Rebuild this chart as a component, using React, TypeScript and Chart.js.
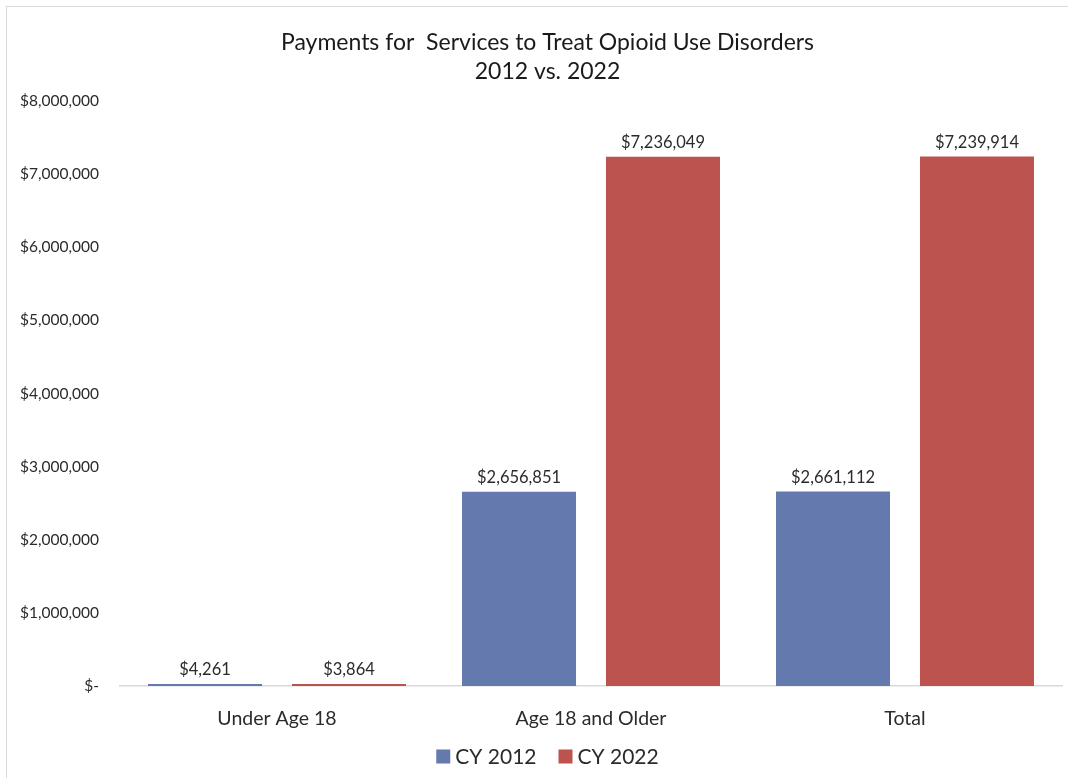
import React, { useEffect, useRef } from "react";
import { Chart, registerables } from "chart.js";

Chart.register(...registerables);

const categories = ["Under Age 18", "Age 18 and Older", "Total"];
const seriesLabels = ["CY 2012", "CY 2022"];
const cy2012 = [4261, 2656851, 2661112];
const cy2022 = [3864, 7236049, 7239914];
const titleLines = ["Payments for  Services to Treat Opioid Use Disorders", "2012 vs. 2022"];
const yTicks = [0, 1000000, 2000000, 3000000, 4000000, 5000000, 6000000, 7000000, 8000000];

const COLORS = ["#6479AD", "#BC534E"];
const FONT = "Lato, 'Open Sans', sans-serif";
const TEXT = "#2b2b2b";

const fmt = (v: number) => (v === 0 ? "$-" : "$" + v.toLocaleString("en-US"));

const W = 1081;
const H = 780;

const titlePlugin = {
  id: "customTitle",
  afterDraw(chart: any) {
    const ctx = chart.ctx;
    ctx.save();
    ctx.fillStyle = "#1a1a1a";
    ctx.font = `23px ${FONT}`;
    ctx.textAlign = "center";
    ctx.textBaseline = "middle";
    ctx.fillText(titleLines[0], chart.width / 2, 36);
    ctx.fillText(titleLines[1], chart.width / 2, 65);
    ctx.restore();
  },
};

const dataLabelPlugin = {
  id: "dataLabels",
  afterDatasetsDraw(chart: any) {
    const ctx = chart.ctx;
    ctx.save();
    ctx.fillStyle = TEXT;
    ctx.font = `16.5px ${FONT}`;
    ctx.textAlign = "center";
    ctx.textBaseline = "middle";
    chart.data.datasets.forEach((ds: any, i: number) => {
      const meta = chart.getDatasetMeta(i);
      meta.data.forEach((bar: any, j: number) => {
        const top = Math.min(bar.y, bar.base - 2);
        ctx.fillText(fmt(ds.data[j]), bar.x, top - 14);
      });
    });
    ctx.restore();
  },
};

const legendPlugin = {
  id: "customLegend",
  afterDraw(chart: any) {
    const ctx = chart.ctx;
    ctx.save();
    ctx.font = `21px ${FONT}`;
    ctx.textBaseline = "middle";
    ctx.textAlign = "left";
    const box = 14;
    const gap = 5;
    const between = 22;
    const items = chart.data.datasets.map((ds: any) => ({
      text: ds.label,
      color: ds.backgroundColor,
      w: ctx.measureText(ds.label).width,
    }));
    let total = 0;
    items.forEach((it: any, i: number) => {
      total += box + gap + it.w + (i > 0 ? between : 0);
    });
    let x = chart.width / 2 - total / 2;
    const cy = 749.5;
    items.forEach((it: any) => {
      ctx.fillStyle = it.color;
      ctx.fillRect(x, cy - box / 2, box, box);
      x += box + gap;
      ctx.fillStyle = TEXT;
      ctx.fillText(it.text, x, cy + 1);
      x += it.w + between;
    });
    ctx.restore();
  },
};

export default function App() {
  const ref = useRef<HTMLCanvasElement | null>(null);

  useEffect(() => {
    if (!ref.current) return;
    const chart = new Chart(ref.current, {
      type: "bar",
      data: {
        labels: categories,
        datasets: [
          {
            label: seriesLabels[0],
            data: cy2012,
            backgroundColor: COLORS[0],
            minBarLength: 2,
            categoryPercentage: 0.917,
            barPercentage: 0.792,
          },
          {
            label: seriesLabels[1],
            data: cy2022,
            backgroundColor: COLORS[1],
            minBarLength: 2,
            categoryPercentage: 0.917,
            barPercentage: 0.792,
          },
        ],
      },
      options: {
        responsive: false,
        animation: false,
        layout: { padding: { top: 94, right: 26, bottom: 51, left: 0 } },
        plugins: {
          legend: { display: false },
          title: { display: false },
          tooltip: { enabled: false },
        },
        scales: {
          x: {
            grid: { display: false, drawTicks: false },
            border: { display: true, color: "#d9d9d9", width: 1.5 },
            ticks: {
              color: TEXT,
              font: { family: FONT, size: 19.5 },
              padding: 21,
              maxRotation: 0,
            },
            afterFit: (scale: any) => {
              scale.height = 50;
            },
          },
          y: {
            min: 0,
            max: 8000000,
            grid: { display: false, drawTicks: false },
            border: { display: false },
            afterBuildTicks: (scale: any) => {
              scale.ticks = yTicks.map((v) => ({ value: v }));
            },
            ticks: {
              color: TEXT,
              font: { family: FONT, size: 15.5 },
              padding: 21,
              callback: (v: any) => fmt(Number(v)),
            },
            afterFit: (scale: any) => {
              scale.width = 113;
            },
          },
        },
      },
      plugins: [titlePlugin, dataLabelPlugin, legendPlugin],
    });
    return () => chart.destroy();
  }, []);

  return (
    <div style={{ position: "fixed", inset: 0, overflow: "hidden", background: "#fff" }}>
      <div
        style={{
          position: "absolute",
          left: 6,
          top: 6,
          width: W + 1,
          height: H + 1,
          borderLeft: "1px solid #d9d9d9",
          borderTop: "1px solid #d9d9d9",
          boxSizing: "border-box",
        }}
      >
        <canvas ref={ref} width={W} height={H} style={{ display: "block", width: W, height: H }} />
      </div>
    </div>
  );
}
